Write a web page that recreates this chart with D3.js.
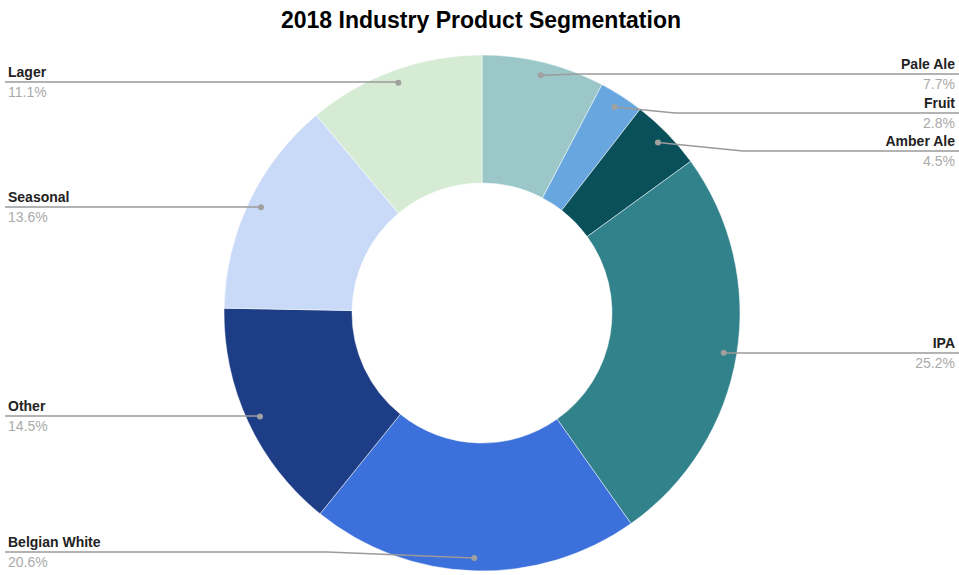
<!DOCTYPE html>
<html>
<head>
<meta charset="utf-8">
<script src="https://cdn.jsdelivr.net/npm/d3@7"></script>
<style>
  html, body { margin: 0; padding: 0; background: #fff; }
  svg { display: block; font-family: "Liberation Sans", Arial, sans-serif; }
</style>
</head>
<body>
<svg id="chart" width="959" height="575"></svg>
<script>
const title = "2018 Industry Product Segmentation";
const categories = ["Pale Ale", "Fruit", "Amber Ale", "IPA", "Belgian White", "Other", "Seasonal", "Lager"];
const values = [7.7, 2.8, 4.5, 25.2, 20.6, 14.5, 13.6, 11.1];
const percentLabels = ["7.7%", "2.8%", "4.5%", "25.2%", "20.6%", "14.5%", "13.6%", "11.1%"];
const colors = ["#9cc7c9", "#67a6de", "#0a505b", "#31828b", "#3c70db", "#1d3d86", "#c9daf8", "#d5ebd4"];
// label row positions (y of the leader line's horizontal run)
const labelLineY = [74, 113, 151, 353, 552, 416, 207, 82];

const W = 959, H = 575;
const cx = 482, cy = 313, outerR = 258, innerR = 130, dotR = 245;

const svg = d3.select("#chart");

svg.append("text")
  .attr("x", 481).attr("y", 28)
  .attr("text-anchor", "middle")
  .attr("font-size", 23).attr("font-weight", "bold")
  .attr("fill", "#000")
  .text(title);

const data = categories.map((c, i) => ({ name: c, value: values[i], pct: percentLabels[i], color: colors[i], ly: labelLineY[i] }));

const pie = d3.pie().value(d => d.value).sort(null);
const arcs = pie(data);
const arc = d3.arc().innerRadius(innerR).outerRadius(outerR);
const dotArc = d3.arc().innerRadius(dotR).outerRadius(dotR);

const g = svg.append("g").attr("transform", `translate(${cx},${cy})`);

g.selectAll("path.slice")
  .data(arcs)
  .enter().append("path")
  .attr("class", "slice")
  .attr("d", arc)
  .attr("fill", d => d.data.color)
  .attr("stroke", "#fff")
  .attr("stroke-width", 0.5);

// leader lines and labels
arcs.forEach(a => {
  const [dx, dy] = dotArc.centroid(a);
  const px = cx + dx, py = cy + dy;
  const mid = (a.startAngle + a.endAngle) / 2;
  const right = mid < Math.PI;
  const ly = a.data.ly;
  let bendX;
  if (Math.abs(py - ly) < 1) {
    bendX = px;
  } else {
    bendX = right ? px + Math.max(40, Math.abs(py - ly) * 10) : px - Math.max(40, Math.abs(py - ly) * 25);
  }
  const endX = right ? W : 5;
  svg.append("path")
    .attr("d", d3.line()([[px, py], [bendX, ly], [endX, ly]]))
    .attr("fill", "none")
    .attr("stroke", "#9a9a9a")
    .attr("stroke-width", 1.5);
  svg.append("circle")
    .attr("cx", px).attr("cy", py).attr("r", 3)
    .attr("fill", "#a0a0a0");

  const tx = right ? 955 : 8;
  const anchor = right ? "end" : "start";
  svg.append("text")
    .attr("x", tx).attr("y", ly - 5)
    .attr("text-anchor", anchor)
    .attr("font-size", 14).attr("font-weight", "bold")
    .attr("fill", "#222")
    .text(a.data.name);
  svg.append("text")
    .attr("x", tx).attr("y", ly + 15)
    .attr("text-anchor", anchor)
    .attr("font-size", 14)
    .attr("fill", "#aaaaaa")
    .text(a.data.pct);
});
</script>
</body>
</html>
